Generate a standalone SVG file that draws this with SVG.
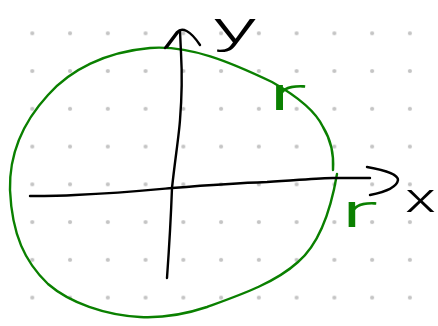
<svg xmlns="http://www.w3.org/2000/svg" width="438" height="326" viewBox="0 0 438 326">
<style>
.ink{fill:none;stroke:#000;stroke-width:2.4;stroke-linecap:round;stroke-linejoin:round}
.green{fill:none;stroke:#0a8000;stroke-width:2.4;stroke-linecap:round;stroke-linejoin:round}
.lbl{font-family:Roboto,"Liberation Sans",sans-serif;font-weight:300}
</style>
<defs>
<pattern id="dots" patternUnits="userSpaceOnUse" x="13.42" y="14.42" width="37.76" height="37.76">
<circle cx="18.88" cy="18.88" r="2.1" fill="#c4c4c4"/>
</pattern>
</defs>
<rect width="438" height="326" fill="#fff"/>
<rect width="438" height="326" fill="url(#dots)"/>
<g id="curve">
<path class="green" d="M337,174 C330,215 318,245 298,262 C275,283 240,295 207,307 C180,316 160,318 140,317 C105,315 70,303 48,284 C25,262 12,235 10,190 C9,150 25,120 48,95 C70,70 105,52 150,48 C190,45 230,62 272,82 C295,95 315,110 323,127 C331,140 334,155 333,170"/>
</g>
<g id="connectors">
<path id="x-axis" class="ink" d="M30,196 C45,196 60,196 75,195 C120,193 150,190 172,188 C210,185 240,183 267,182 C300,180 320,178 333,178 L370,178"/>
<path id="x-arrow" class="ink" d="M367,167 C385,170 398,175 398,180 C397,187 385,192 370,195"/>
<path id="y-axis" class="ink" d="M167,278 C169,250 171,215 172,188 C175,160 179,135 180,120 C182,95 182,70 181,53 L180,31"/>
<path id="y-arrow" class="ink" d="M165,48 L177,32 C182,27 190,30 200,45 M167,47 L179,31"/>
</g>
<g id="labels">
<text class="lbl" x="213" y="43" font-size="44" textLength="44" lengthAdjust="spacingAndGlyphs" fill="#000">y</text>
<text class="lbl" x="405" y="212" font-size="40" textLength="31" lengthAdjust="spacingAndGlyphs" fill="#000">x</text>
<text class="lbl" x="267" y="110" font-size="46" textLength="40" lengthAdjust="spacingAndGlyphs" fill="#0a8000">r</text>
<text class="lbl" x="340" y="227" font-size="46" textLength="38" lengthAdjust="spacingAndGlyphs" fill="#0a8000">r</text>
</g>
</svg>
